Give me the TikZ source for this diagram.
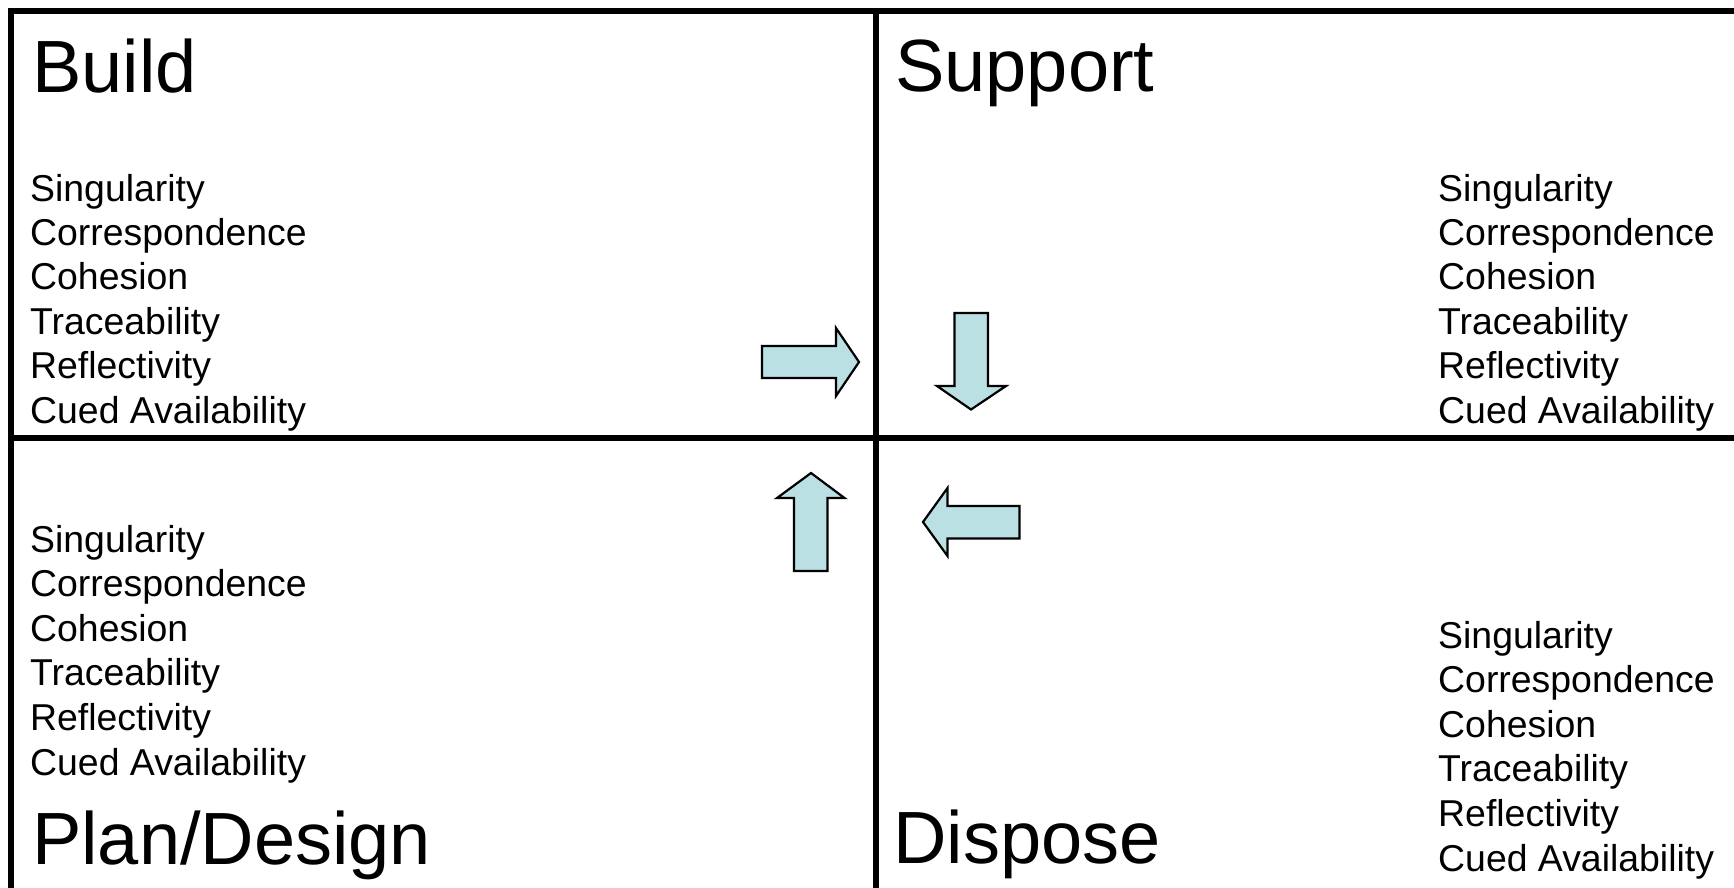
\documentclass[tikz,border=0pt]{standalone}
\usepackage{fontspec}
\setmainfont{Liberation Sans}
\definecolor{arrowfill}{HTML}{BBE0E3}
\begin{document}
\begin{tikzpicture}[x=1pt,y=-1pt,
  frame/.style={line width=6pt},
  title/.style={anchor=base west,inner sep=0pt,font=\fontsize{74}{80}\selectfont},
  item/.style={anchor=base west,inner sep=0pt,font=\fontsize{37.4}{44}\selectfont},
  blockarrow/.style={draw=black,line width=2.2pt,fill=arrowfill,line join=miter}]
\useasboundingbox (0,0) rectangle (1734,887);
\fill[white] (0,0) rectangle (1734,887);
% frame
\coordinate (tl) at (11,10.5);
\coordinate (tr) at (1740,10.5);
\coordinate (bl) at (11,895);
\coordinate (mt) at (875.5,10.5);
\coordinate (mb) at (875.5,895);
\coordinate (ml) at (11,437.5);
\coordinate (mr) at (1740,437.5);
\draw[frame] (bl) -- (tl) -- (tr);
\draw[frame] (mt) -- (mb);
\draw[frame] (ml) -- (mr);
% titles
\node[title] (build) at (32,92) {Build};
\node[title] (support) at (895,91) {Support};
\node[title] (plan) at (32,864) {Plan/Design};
\node[title] (dispose) at (893,863) {Dispose};
% lists
\foreach \t [count=\i] in {Singularity,Correspondence,Cohesion,Traceability,Reflectivity,Cued Availability}{
  \node[item] (a\i) at (30,{201+44.4*(\i-1)}) {\t};
  \node[item] (b\i) at (1438,{201+44.4*(\i-1)}) {\t};
  \node[item] (c\i) at (30,{552+44.6*(\i-1)}) {\t};
  \node[item] (d\i) at (1438,{648+44.6*(\i-1)}) {\t};
}
% block arrows
\draw[blockarrow] (762,346) -- (836,346) -- (836,328) -- (859,362) -- (836,396) -- (836,378) -- (762,378) -- cycle;
\draw[blockarrow] (954.5,313) -- (988,313) -- (988,386) -- (1006,386) -- (971,409.5) -- (937,386) -- (954.5,386) -- cycle;
\draw[blockarrow] (794,571) -- (827.5,571) -- (827.5,498) -- (844.5,498) -- (811,473) -- (777,498) -- (794,498) -- cycle;
\draw[blockarrow] (1019.5,506) -- (1019.5,538.5) -- (947.5,538.5) -- (947.5,556) -- (923,522) -- (947.5,488) -- (947.5,506) -- cycle;
\end{tikzpicture}
\end{document}
